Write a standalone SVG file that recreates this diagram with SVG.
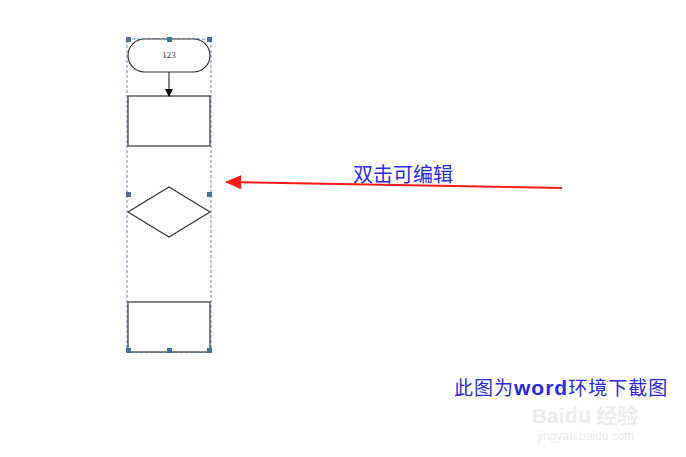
<svg xmlns="http://www.w3.org/2000/svg" width="686" height="457" viewBox="0 0 686 457">
<style>
.shape{fill:#fff;stroke:#333;stroke-width:1.2}
.h{fill:#41719c}
.cjk{font-family:"Noto Sans CJK SC",sans-serif;fill:#2a2ae0}
.wm{font-family:"Liberation Sans",sans-serif;fill:#ececec}
</style>
<defs>
<marker id="ab" markerWidth="8" markerHeight="8" refX="7" refY="4" orient="auto" markerUnits="userSpaceOnUse"><path d="M0,0 L8,4 L0,8 Z" fill="#000"/></marker>
<marker id="ar" markerWidth="16" markerHeight="14" refX="15" refY="7" orient="auto" markerUnits="userSpaceOnUse"><path d="M0,0 L16,7 L0,14 Z" fill="#ff1a1a"/></marker>
</defs>
<rect width="686" height="457" fill="#fff"/>
<rect x="127" y="39" width="84" height="313" fill="none" stroke="#5b8fd6" stroke-width="1" stroke-dasharray="3,2"/>
<g id="start"><rect class="shape" x="128" y="39" width="82" height="33" rx="16.5"/><text x="169" y="58" text-anchor="middle" font-family="Liberation Serif,serif" font-size="9" fill="#333">123</text></g>
<g id="process1"><rect class="shape" x="128" y="96" width="82" height="50"/></g>
<g id="decision"><polygon class="shape" points="128,212 169,187 210,212 169,237"/></g>
<g id="process2"><rect class="shape" x="128" y="302" width="82" height="50"/></g>
<g id="connectors">
<line x1="169" y1="72" x2="169" y2="96" stroke="#333" stroke-width="1.2" marker-end="url(#ab)"/>
<line x1="562" y1="188" x2="226" y2="182" stroke="#ff1a1a" stroke-width="2" marker-end="url(#ar)"/>
</g>
<g id="handles">
<rect class="h" x="126" y="37" width="5" height="5"/><rect class="h" x="167" y="37" width="5" height="5"/><rect class="h" x="207" y="37" width="5" height="5"/>
<rect class="h" x="126" y="192" width="5" height="5"/><rect class="h" x="207" y="192" width="5" height="5"/>
<rect class="h" x="126" y="348" width="5" height="5"/><rect class="h" x="167" y="348" width="5" height="5"/><rect class="h" x="207" y="348" width="5" height="5"/>
</g>
<text class="wm" x="585" y="423" text-anchor="middle" font-size="21" font-weight="bold">Bai<tspan font-family="Noto Sans CJK SC,sans-serif">du 经验</tspan></text>
<text class="wm" x="586" y="440" text-anchor="middle" font-size="12">jingyan.baidu.com</text>
<text class="cjk" x="403" y="182" text-anchor="middle" font-size="20">双击可编辑</text>
<text class="cjk" x="454" y="395" font-size="19" letter-spacing="1">此图为<tspan font-family="Liberation Sans,sans-serif" font-weight="bold" font-size="21">word</tspan>环境下截图</text>
</svg>
